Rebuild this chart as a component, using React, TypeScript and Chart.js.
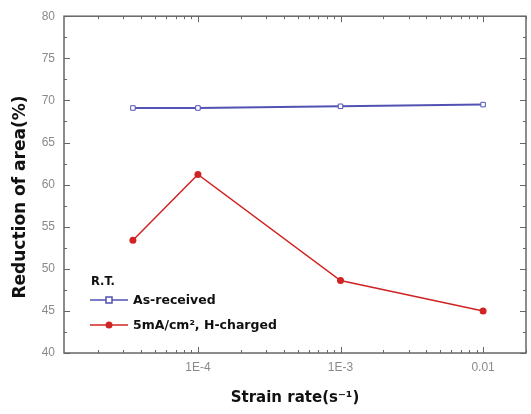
import React, { useEffect, useRef } from "react";
import { Chart, registerables } from "chart.js";

Chart.register(...registerables);

const strainRates = [3.5e-5, 1e-4, 1e-3, 1e-2];
const asReceived = [69.1, 69.1, 69.3, 69.5];
const hCharged = [53.4, 61.2, 48.6, 45.0];
const xTickValues = [1e-4, 1e-3, 1e-2];
const xTickLabels = ["1E-4", "1E-3", "0.01"];
const yTickValues = [40, 45, 50, 55, 60, 65, 70, 75, 80];
const legendTitle = "R.T.";
const seriesNames = ["As-received", "5mA/cm\u00B2, H-charged"];
const xTitle = "Strain rate(s\u207B\u00B9)";
const yTitle = "Reduction of area(%)";

const FONT = "'Liberation Sans', Arial, sans-serif";
const BFONT = "'DejaVu Sans', sans-serif";
const BLUE = "#5252b4";
const RED = "#d02424";

const framePlugin = {
  id: "frame",
  afterDraw(chart: any) {
    const { ctx, chartArea } = chart;
    const { left, right, top, bottom } = chartArea;
    const xs = chart.scales.x;
    const ys = chart.scales.y;
    ctx.save();
    ctx.strokeStyle = "#666";
    ctx.lineWidth = 1.5;
    ctx.strokeRect(left, top, right - left, bottom - top);
    ctx.lineWidth = 1;
    ctx.strokeStyle = "#666";
    for (let e = -5; e <= -2; e++) {
      for (let m = 1; m <= 9; m++) {
        const v = m * Math.pow(10, e);
        if (v < xs.min || v > xs.max) continue;
        const px = Math.round(xs.getPixelForValue(v)) + 0.5;
        const len = m === 1 ? 6 : 3;
        ctx.beginPath();
        ctx.moveTo(px, bottom);
        ctx.lineTo(px, bottom - len);
        ctx.moveTo(px, top);
        ctx.lineTo(px, top + len);
        ctx.stroke();
      }
    }
    for (let v = 40; v <= 80; v += 2.5) {
      const py = Math.round(ys.getPixelForValue(v)) + 0.5;
      const len = v % 5 === 0 ? 6 : 3;
      ctx.beginPath();
      ctx.moveTo(left, py);
      ctx.lineTo(left + len, py);
      ctx.moveTo(right, py);
      ctx.lineTo(right - len, py);
      ctx.stroke();
    }
    // axis titles
    ctx.fillStyle = "#111";
    ctx.textBaseline = "middle";
    ctx.textAlign = "center";
    ctx.font = `bold 15px ${BFONT}`;
    ctx.fillText(xTitle, (left + right) / 2, 398);
    ctx.save();
    ctx.translate(21, 197);
    ctx.rotate(-Math.PI / 2);
    ctx.font = `bold 17px ${BFONT}`;
    ctx.fillText(yTitle, 0, 0);
    ctx.restore();
    // legend
    const lx = 90;
    ctx.font = `bold 11.5px ${BFONT}`;
    ctx.textAlign = "left";
    ctx.fillText(legendTitle, 91, 282);
    ctx.font = `bold 12.5px ${BFONT}`;
    const rows = [
      { y: 300, color: BLUE, name: seriesNames[0], square: true },
      { y: 325, color: RED, name: seriesNames[1], square: false },
    ];
    rows.forEach((r) => {
      ctx.strokeStyle = r.color;
      ctx.lineWidth = 1.5;
      ctx.beginPath();
      ctx.moveTo(lx, r.y);
      ctx.lineTo(lx + 38, r.y);
      ctx.stroke();
      if (r.square) {
        ctx.fillStyle = "#fff";
        ctx.fillRect(lx + 16, r.y - 3, 6, 6);
        ctx.strokeRect(lx + 16, r.y - 3, 6, 6);
      } else {
        ctx.fillStyle = r.color;
        ctx.beginPath();
        ctx.arc(lx + 19, r.y, 3.5, 0, Math.PI * 2);
        ctx.fill();
      }
      ctx.fillStyle = "#111";
      ctx.fillText(r.name, lx + 43, r.y + 1);
    });
    ctx.restore();
  },
};

export default function App() {
  const ref = useRef<HTMLCanvasElement | null>(null);
  useEffect(() => {
    if (!ref.current) return;
    const chart = new Chart(ref.current, {
      type: "line",
      data: {
        datasets: [
          {
            label: seriesNames[0],
            data: strainRates.map((x, i) => ({ x, y: asReceived[i] })),
            borderColor: BLUE,
            backgroundColor: "#fff",
            borderWidth: 2,
            pointStyle: "rect",
            pointRadius: 3.2,
            pointBorderWidth: 1,
            pointBorderColor: BLUE,
            pointBackgroundColor: "#fff",
          },
          {
            label: seriesNames[1],
            data: strainRates.map((x, i) => ({ x, y: hCharged[i] })),
            borderColor: RED,
            backgroundColor: RED,
            borderWidth: 1.5,
            pointStyle: "circle",
            pointRadius: 3.5,
            pointBorderWidth: 0,
            pointBackgroundColor: RED,
          },
        ],
      },
      options: {
        animation: false,
        responsive: false,
        maintainAspectRatio: false,
        layout: { padding: { top: 12, right: 3, left: 0, bottom: 0 } },
        plugins: { legend: { display: false }, tooltip: { enabled: false } },
        scales: {
          x: {
            type: "logarithmic",
            min: 1.15e-5,
            max: 0.02,
            grid: { display: false, drawTicks: false },
            border: { display: false },
            afterBuildTicks: (scale: any) => {
              scale.ticks = xTickValues.map((v) => ({ value: v }));
            },
            afterFit: (scale: any) => {
              scale.height = 61;
            },
            ticks: {
              autoSkip: false,
              maxRotation: 0,
              padding: 7,
              color: "#8a8a8a",
              font: { family: FONT, size: 12 },
              callback: (v: any) => {
                const i = xTickValues.findIndex((t) => Math.abs(t - v) / t < 1e-6);
                return i >= 0 ? xTickLabels[i] : "";
              },
            },
          },
          y: {
            min: 40,
            max: 80,
            grid: { display: false, drawTicks: false },
            border: { display: false },
            afterBuildTicks: (scale: any) => {
              scale.ticks = yTickValues.map((v) => ({ value: v }));
            },
            afterFit: (scale: any) => {
              scale.width = 64;
            },
            ticks: {
              padding: 9,
              color: "#8a8a8a",
              font: { family: FONT, size: 12 },
            },
          },
        },
      },
      plugins: [framePlugin],
    } as any);
    return () => chart.destroy();
  }, []);
  return (
    <div style={{ position: "absolute", left: 0, top: 0, width: 531, height: 414, background: "#fff" }}>
      <canvas ref={ref} width={531} height={414} style={{ width: 531, height: 414 }} />
    </div>
  );
}
